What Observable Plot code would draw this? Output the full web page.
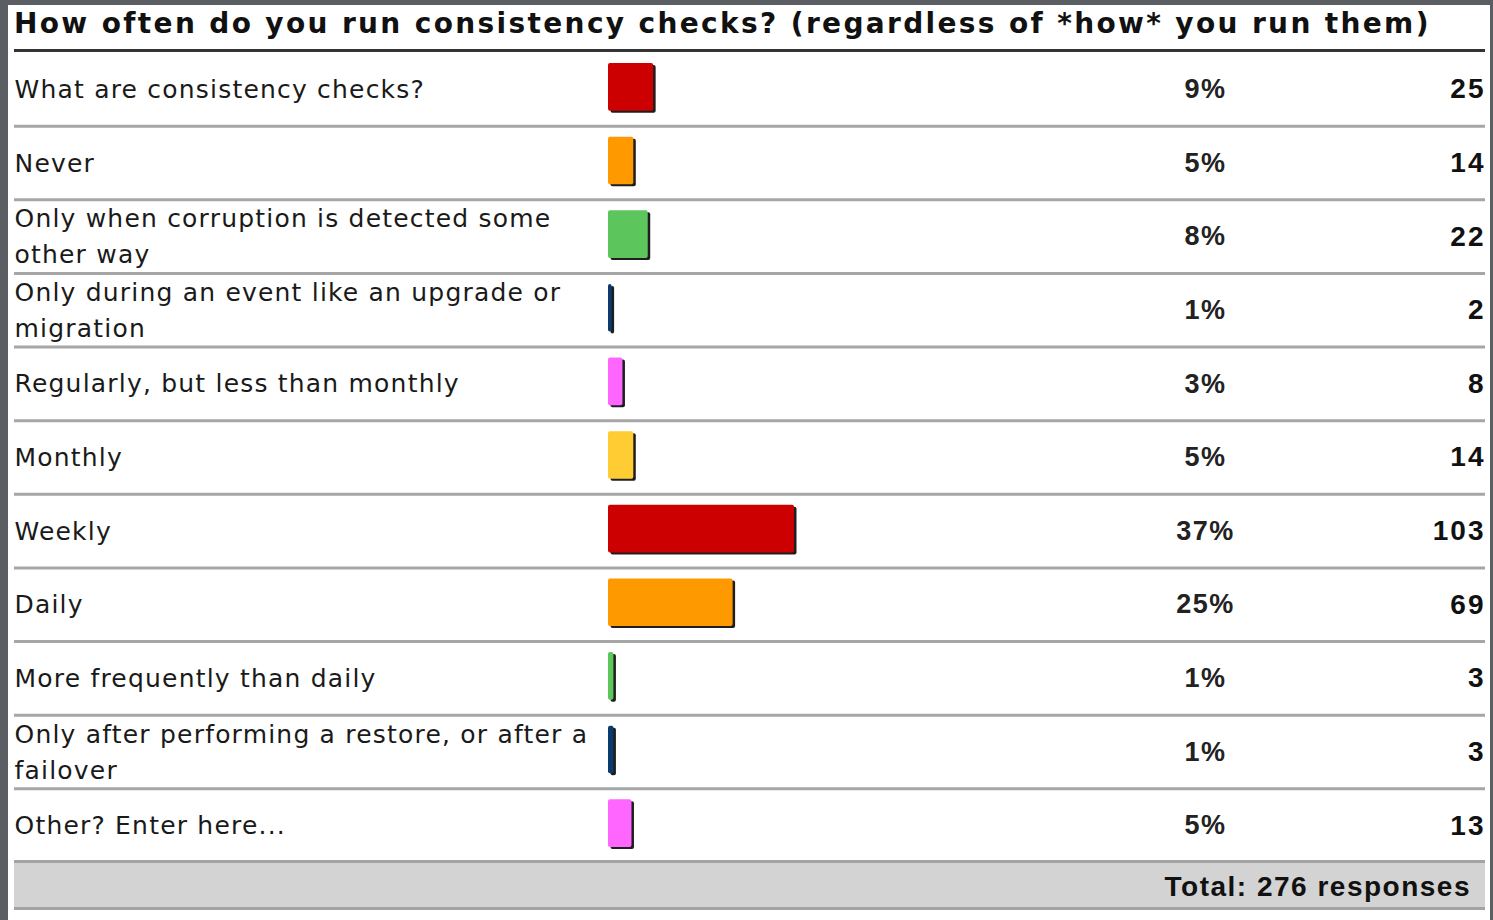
<!DOCTYPE html>
<html>
<head>
<meta charset="utf-8">
<script src="https://cdn.jsdelivr.net/npm/d3@7"></script>
<script src="https://cdn.jsdelivr.net/npm/@observablehq/plot@0.6"></script>
<style>
  html, body { margin: 0; padding: 0; background: #5b5e63; width: 1493px; height: 920px; overflow: hidden; }
  #panel { position: absolute; left: 8px; top: 5px; width: 1482px; height: 915px; background: #ffffff; }
  #title { position: absolute; left: 6px; top: 0; width: 1471px; height: 44px; border-bottom: 3px solid #333; font: bold 28px "DejaVu Sans", sans-serif; line-height: 38px; color: #111; white-space: nowrap; letter-spacing: 2.35px; }
  #chart { position: absolute; left: 0; top: 47px; }
  #chart svg { display: block; }
  #total { position: absolute; left: 6px; top: 855px; width: 1471px; height: 44px; background: #d3d3d3; border-top: 3px solid #a3a3a3; border-bottom: 3px solid #a3a3a3; text-align: right; font: bold 28px "Liberation Sans", Arial, sans-serif; letter-spacing: 1.5px; line-height: 47px; color: #111; }
  #total span { padding-right: 14px; }
</style>
</head>
<body>
<div id="panel">
  <div id="title">How often do you run consistency checks? (regardless of *how* you run them)</div>
  <div id="chart"></div>
  <div id="total"><span></span></div>
</div>
<script>
const labels = [
  "What are consistency checks?",
  "Never",
  "Only when corruption is detected some\nother way",
  "Only during an event like an upgrade or\nmigration",
  "Regularly, but less than monthly",
  "Monthly",
  "Weekly",
  "Daily",
  "More frequently than daily",
  "Only after performing a restore, or after a\nfailover",
  "Other? Enter here..."
];
const percents = [9, 5, 8, 1, 3, 5, 37, 25, 1, 1, 5];
const counts = [25, 14, 22, 2, 8, 14, 103, 69, 3, 3, 13];
const totalResponses = 276;

const palette = ["#cc0000", "#ff9900", "#5cc65c", "#0b3a6e", "#ff66ff", "#ffcc33",
                 "#cc0000", "#ff9900", "#5cc65c", "#0b3a6e", "#ff66ff"];

const rows = labels.map((label, i) => ({label, pct: percents[i], count: counts[i]}));

const W = 1482, H = 810;
const band = H / labels.length;

const chart = Plot.plot({
  width: W,
  height: H,
  margin: 0,
  style: {background: "white", overflow: "visible"},
  x: {domain: [0, 103], range: [600, 786], axis: null},
  y: {domain: labels, range: [0, H], padding: 0, round: false, axis: null},
  color: {domain: labels, range: palette},
  marks: [
    Plot.ruleY(rows.slice(0, -1), {y: "label", dy: band / 2, stroke: "#a6a6a6", strokeWidth: 3, insetLeft: 6, insetRight: 5}),
    Plot.barX(rows, {y: "label", x: "count", fill: "#1e1e1e", dx: 2.5, dy: 2, insetTop: 11, insetBottom: 15, rx: 2}),
    Plot.barX(rows, {y: "label", x: "count", fill: "label", insetTop: 11, insetBottom: 15, rx: 2}),
    Plot.text(rows, {y: "label", text: "label", frameAnchor: "left", dx: 6, dy: -3, textAnchor: "start",
      fontSize: 25, fontFamily: "DejaVu Sans, sans-serif", fill: "#1a1a1a", lineHeight: 1.45}),
    Plot.text(rows, {y: "label", text: d => d.pct + "%", frameAnchor: "left", dx: 1197, textAnchor: "middle",
      fontSize: 27, fontWeight: "bold", fontFamily: "Liberation Sans, Arial, sans-serif", fill: "#222"}),
    Plot.text(rows, {y: "label", text: d => String(d.count), frameAnchor: "right", dx: -5, textAnchor: "end",
      fontSize: 28, fontWeight: "bold", fontFamily: "Liberation Sans, Arial, sans-serif", fill: "#111"})
  ]
});
const textGroups = chart.querySelectorAll('g[aria-label="text"]');
if (textGroups[0]) textGroups[0].style.letterSpacing = "1.2px";
if (textGroups[1]) textGroups[1].style.letterSpacing = "1.5px";
if (textGroups[2]) textGroups[2].style.letterSpacing = "2px";
document.getElementById("chart").appendChild(chart);
document.querySelector("#total span").textContent = "Total: " + totalResponses + " responses";
</script>
</body>
</html>
